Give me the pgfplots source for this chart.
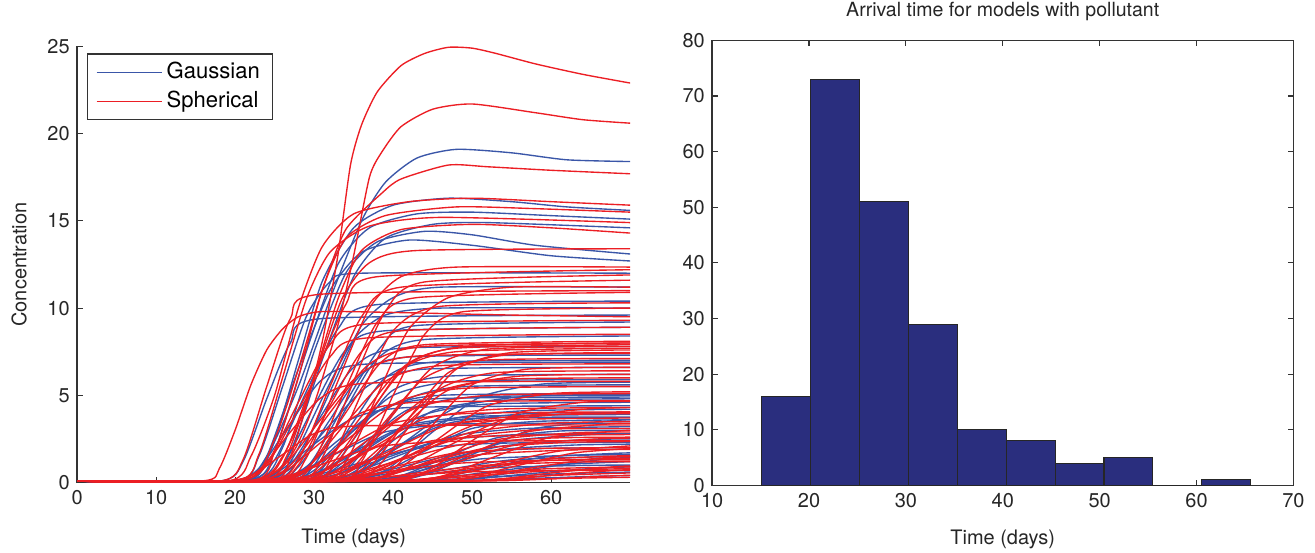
\documentclass[border=0pt]{standalone}
\usepackage{pgfplots}
\pgfplotsset{compat=1.18}
\usepackage{fontspec}
\setmainfont{TeX Gyre Heros}
\definecolor{gblue}{RGB}{58,86,168}
\definecolor{sred}{RGB}{236,30,36}
\definecolor{navy}{RGB}{42,46,126}
\pgfplotsset{
  gau/.style={color=gblue, line width=0.65pt, smooth, tension=0.4},
  sph/.style={color=sred, line width=0.65pt, smooth, tension=0.4},
  matlab/.style={
    scale only axis,
    tick align=inside,
    major tick length=2.6pt,
    axis line style={black!80, line width=0.6pt},
    every tick/.style={black!80, line width=0.5pt},
    /pgf/number format/assume math mode=true,
    tick label style={font=\fontsize{9.5}{11}\selectfont, black!85},
    label style={font=\fontsize{9.5}{11}\selectfont, black!85},
    title style={font=\fontsize{9.3}{11}\selectfont, black!85},
  },
}
% one curve each, starting flat at zero
\newcommand{\Gc}[1]{\addplot[gau,forget plot] coordinates {(0,0.08)#1};}
\newcommand{\Sc}[1]{\addplot[sph,forget plot] coordinates {(0,0.08)#1};}
\begin{document}
\begin{tikzpicture}
\path[use as bounding box] (0,0) rectangle (626pt,263pt);

\begin{axis}[matlab,
  at={(36.7pt,33.3pt)}, anchor=south west,
  width=263.3pt, height=207.6pt,
  xmin=0, xmax=70, ymin=0, ymax=25,
  xtick={0,10,...,60}, ytick={0,5,...,25},
  axis x line*=bottom, axis y line*=left,
  x axis line style={-}, y axis line style={-},
  xlabel={Time (days)}, ylabel={Concentration},
  xlabel style={yshift=-4.8pt}, ylabel style={yshift=3pt},
  legend style={at={(rel axis cs:0.018,0.984)}, anchor=north west,
    draw=black!80, line width=0.6pt, font=\fontsize{10.5}{12}\selectfont,
    cells={anchor=west}, row sep=0.5pt, inner xsep=4pt, inner ysep=2pt},
  legend image code/.code={\draw[#1, line width=0.6pt] (0pt,0pt) -- (31pt,0pt);},
]
% Gaussian
\addplot[gau] coordinates {(0,0.08)(20,.08)(24,1.5)(28,5.5)(32,10.5)(36,15)(39,17.2)(43,18.6)(48,19.1)(55,18.9)(62,18.5)(70,18.4)};
\addlegendentry{Gaussian}
\Gc{(21,.08)(24.5,1.8)(28,7)(31,11.5)(35,14.6)(40,15.9)(47,16.3)(55,16.1)(62,15.8)(70,15.6)}
\Gc{(21.5,.08)(25,1.8)(29,7.5)(33,12.5)(37,14.6)(43,15.4)(50,15.5)(60,15.3)(70,15.1)}
\Gc{(23,.08)(27,1.8)(31,7)(35,11.8)(39,14)(45,14.8)(52,14.9)(70,14.6)}
\Gc{(22,.08)(26,2)(30,7.5)(34,12)(38,13.8)(44,14.4)(50,14.2)(58,13.6)(70,13.1)}
\Gc{(21,.08)(24,1.5)(28,6.5)(32,11)(36,13.2)(42,13.9)(50,13.6)(60,13.0)(70,12.7)}
\Gc{(20,.08)(23,1.5)(26,5.5)(29,9.5)(32,11.5)(36,12.0)(70,12.0)}
\Gc{(24,.08)(28,1.4)(32,5.2)(36,9)(40,10.6)(46,11.2)(70,11.2)}
\Gc{(23,.08)(27,1.2)(31,4.8)(35,8.2)(39,9.6)(46,10.0)(70,10.0)}
\Gc{(25,.08)(29.5,1.1)(34,4.6)(38.5,7.8)(43,9.0)(70,9.2)}
\Gc{(22,.08)(26,1)(30,4.4)(34,7.6)(39,8.7)(70,8.9)}
\Gc{(26,.08)(30,1)(34,4.2)(38,7.1)(44,8.2)(70,8.4)}
\Gc{(24,.08)(28,0.9)(32,3.6)(36,6.2)(42,7.2)(70,7.3)}
\Gc{(27,.08)(31,0.8)(35,3.5)(39,6)(45,6.9)(70,7.0)}
\Gc{(22,.08)(27,0.8)(32,3.3)(37,5.6)(44,6.5)(70,6.6)}
\Gc{(28,.08)(32,0.7)(36,3.1)(40,5.3)(47,6.1)(70,6.2)}
\Gc{(25,.08)(30,0.7)(35,3)(40,5)(48,5.8)(70,5.9)}
\Gc{(30,.08)(34,0.7)(38,2.8)(42,4.8)(49,5.5)(70,5.6)}
\Gc{(24,.08)(29,0.6)(34,2.6)(39,4.3)(46,5.0)(70,5.1)}
\Gc{(27,.08)(32,0.6)(37,2.5)(42,4.2)(50,4.9)(70,5.0)}
\Gc{(23,.08)(28,0.6)(33,2.4)(38,4.1)(45,4.8)(70,4.9)}
\Gc{(30,.08)(35,0.6)(40,2.4)(45,4.1)(53,4.7)(70,4.8)}
\Gc{(26,.08)(32,0.55)(38,2.3)(44,3.9)(52,4.5)(70,4.6)}
\Gc{(29,.08)(35,0.5)(41,2.1)(47,3.6)(56,4.1)(70,4.2)}
\Gc{(24,.08)(30,0.5)(36,2)(42,3.3)(51,3.8)(70,3.9)}
\Gc{(32,.08)(38,0.45)(44,1.8)(50,3.1)(58,3.5)(70,3.6)}
\Gc{(27,.08)(34,0.4)(41,1.6)(48,2.7)(57,3.1)(70,3.2)}
\Gc{(35,.08)(41,0.4)(47,1.5)(53,2.55)(61,2.95)(70,3.0)}
\Gc{(25,.08)(32,0.35)(39,1.4)(46,2.4)(56,2.75)(70,2.8)}
\Gc{(30,.08)(38,0.3)(46,1.25)(54,2.1)(64,2.45)(70,2.5)}
\Gc{(33,.08)(40,0.3)(47,1.1)(54,1.9)(63,2.15)(70,2.2)}
\Gc{(28,.08)(35,0.25)(42,1)(49,1.7)(59,1.95)(70,2.0)}
\Gc{(38,.08)(45,0.2)(52,0.85)(59,1.45)(68,1.67)(70,1.7)}
\Gc{(31,.08)(39,0.2)(47,0.75)(55,1.3)(66,1.47)(70,1.5)}
\Gc{(36,.08)(44,0.15)(52,0.6)(60,1.0)(70,1.2)}
\Gc{(40,.08)(48,0.12)(56,0.45)(64,0.77)(70,0.9)}
\Gc{(34,.08)(43,0.1)(52,0.3)(61,0.5)(70,0.6)}
\Gc{(45,.08)(55,0.2)(65,0.35)(70,0.4)}
\Gc{(21,.08)(25,1.3)(29,5.2)(33,8.8)(38,10.2)(70,10.4)}
\Gc{(23,.08)(27,1)(31,3.9)(35,6.6)(41,7.7)(70,7.8)}
\Gc{(21,.08)(27,0.4)(33,1.7)(39,2.9)(48,3.35)(70,3.4)}
\Gc{(29,.08)(37,0.12)(45,0.5)(53,0.85)(64,0.98)(70,1.0)}
\Gc{(19,.08)(23,0.8)(27,3.4)(31,5.9)(37,6.8)(70,6.9)}
\Gc{(20,.08)(25,0.5)(30,2.2)(35,3.7)(42,4.3)(70,4.4)}
\Gc{(22,.08)(29,0.3)(36,1.15)(43,1.95)(53,2.25)(70,2.3)}
\Gc{(18,.08)(21,1.2)(24,4.8)(27,8)(31,9.4)(70,9.6)}
\Gc{(34,.08)(41,0.35)(48,1.4)(55,2.4)(65,2.75)(70,2.8)}
\Gc{(26,.08)(33,0.5)(40,2.0)(47,3.4)(57,3.95)(70,4.0)}
\Gc{(37,.08)(44,0.45)(51,1.8)(58,3.1)(68,3.55)(70,3.6)}
\Gc{(30,.08)(36,0.6)(42,2.5)(48,4.3)(57,4.95)(70,5.05)}
\Gc{(42,.08)(50,0.2)(58,0.8)(66,1.3)(70,1.45)}
\Gc{(27,.08)(35,0.2)(43,0.8)(51,1.35)(62,1.55)(70,1.6)}
\Gc{(33,.08)(39,0.7)(45,2.9)(51,4.9)(59,5.65)(70,5.75)}
\Gc{(24,.08)(30,0.45)(36,1.9)(42,3.2)(51,3.7)(70,3.75)}
% Spherical
\addplot[sph] coordinates {(0,0.08)(22,.1)(26,1.5)(29,4.5)(31,8)(33,13)(34.6,18.2)(36,20.5)(38,22.4)(41,23.9)(44,24.6)(47,24.95)(50,24.9)(53,24.6)(58,24)(64,23.4)(70,22.9)};
\addlegendentry{Spherical}
\Sc{(22,.1)(27,1.5)(30,4.5)(33,9)(35,13)(37,17.5)(38.5,18.9)(41,20.4)(45,21.4)(50,21.7)(58,21.2)(64,20.8)(70,20.6)}
\Sc{(21,.1)(25,2.5)(28,6.5)(31,11)(34,14.5)(38.6,16.6)(41,17.4)(47,18.2)(52,18.1)(60,17.9)(70,17.7)}
\Sc{(16,.1)(18,0.8)(20,3)(22,5.6)(24,7.6)(26,8.8)(28,9.5)(31,9.8)(40,9.75)(55,9.6)(70,9.5)}
\Sc{(19,.08)(22,1.5)(25,5)(28,10)(31,13.5)(35,15.4)(42,16.1)(50,16.3)(60,16.1)(70,15.9)}
\Sc{(22,.08)(25,1.8)(28,6)(31,11)(34,14)(39,15.3)(48,15.8)(58,15.7)(70,15.5)}
\Sc{(20,.08)(23,1.6)(26,6)(29,10.5)(32,13.2)(37,14.7)(46,15.2)(70,14.9)}
\Sc{(24,.08)(27,1.5)(30,6)(33,10.5)(36,13.3)(41,14.5)(50,14.8)(60,14.6)(70,14.3)}
\Sc{(23,.08)(26.5,1.5)(30,6)(33.5,10.5)(37,12.6)(43,13.3)(70,13.4)}
\Sc{(25,.08)(29,1.4)(33,5.8)(37,10)(41,11.8)(48,12.35)(70,12.35)}
\Sc{(22,.08)(26,1.4)(30,6)(34,10.2)(38,11.8)(70,12.2)}
\Sc{(27,.08)(31,1.4)(35,5.8)(39,9.8)(44,11.5)(70,11.9)}
\Sc{(24,.08)(28,1.3)(32,5.5)(36,9.5)(41,11.2)(70,11.6)}
\Sc{(26,.08)(30,1.3)(34,5.4)(38,9.2)(43,10.6)(70,10.9)}
\Sc{(28,.08)(32,1.2)(36,5.1)(40,8.7)(46,10.1)(70,10.3)}
\Sc{(30,.08)(34,1.2)(38,5)(42,8.8)(47,10.6)(55,11.2)(70,11.2)}
\Sc{(24,.08)(28,1)(32,4.4)(36,7.5)(41,8.7)(70,8.9)}
\Sc{(25,.08)(29.5,1)(34,4)(38.5,6.9)(44,7.9)(70,8.1)}
\Sc{(22,.08)(27,1)(32,4)(37,6.8)(44,7.8)(70,8.0)}
\Sc{(28,.08)(32.5,0.9)(37,3.9)(41.5,6.7)(48,7.7)(70,7.9)}
\Sc{(30,.08)(35,0.9)(40,3.9)(45,6.6)(52,7.65)(70,7.8)}
\Sc{(26,.08)(31,0.9)(36,3.8)(41,6.5)(48,7.5)(70,7.7)}
\Sc{(33,.08)(38,0.9)(43,3.8)(48,6.5)(55,7.45)(70,7.6)}
\Sc{(21,.08)(26,0.9)(31,3.7)(36,6.3)(43,7.25)(70,7.4)}
\Sc{(29,.08)(34,0.85)(39,3.5)(44,6)(51,7)(70,7.1)}
\Sc{(24,.08)(29,0.8)(34,3.4)(39,5.8)(46,6.7)(70,6.8)}
\Sc{(31,.08)(36,0.75)(41,3.2)(46,5.4)(53,6.3)(70,6.4)}
\Sc{(27,.08)(33,0.7)(39,3)(45,5.1)(53,5.9)(70,6.0)}
\Sc{(23,.08)(29,0.65)(35,2.75)(41,4.7)(49,5.4)(70,5.5)}
\Sc{(34,.08)(40,0.6)(46,2.6)(52,4.4)(60,5.1)(70,5.2)}
\Sc{(26,.08)(32,0.5)(38,2.15)(44,3.65)(53,4.2)(70,4.3)}
\Sc{(30,.08)(37,0.5)(44,2)(51,3.4)(61,3.9)(70,4.0)}
\Sc{(23,.08)(30,0.45)(37,1.85)(44,3.15)(54,3.6)(70,3.7)}
\Sc{(36,.08)(43,0.4)(50,1.7)(57,2.9)(67,3.35)(70,3.4)}
\Sc{(28,.08)(35,0.37)(42,1.55)(49,2.6)(59,3.05)(70,3.1)}
\Sc{(32,.08)(39,0.35)(46,1.45)(53,2.45)(63,2.85)(70,2.9)}
\Sc{(25,.08)(33,0.3)(41,1.3)(49,2.2)(60,2.55)(70,2.6)}
\Sc{(37,.08)(45,0.25)(53,1.05)(61,1.8)(70,2.1)}
\Sc{(27,.08)(35,0.23)(43,0.95)(51,1.6)(62,1.86)(70,1.9)}
\Sc{(41,.08)(49,0.2)(57,0.8)(65,1.35)(70,1.5)}
\Sc{(30,.08)(39,0.17)(48,0.7)(57,1.2)(68,1.38)(70,1.4)}
\Sc{(44,.08)(52,0.13)(60,0.55)(68,0.9)(70,0.95)}
\Sc{(33,.08)(42,0.1)(51,0.4)(60,0.68)(70,0.8)}
\Sc{(48,.08)(57,0.15)(66,0.35)(70,0.42)}
\Sc{(38,.08)(50,0.12)(62,0.24)(70,0.3)}
\Sc{(20,.08)(24,1.1)(28,4.6)(32,7.9)(37,9.1)(70,9.3)}
\Sc{(32,.08)(36,1.2)(40,5)(44,8.5)(49,9.8)(70,10.0)}
\Sc{(19,.08)(23,0.7)(27,2.9)(31,4.9)(37,5.7)(70,5.8)}
\Sc{(18,.08)(22,0.4)(26,1.6)(30,2.8)(36,3.25)(70,3.3)}
\Sc{(20,.08)(26,0.3)(32,1.2)(38,2.05)(47,2.35)(70,2.4)}
\Sc{(21,.08)(26,0.55)(31,2.35)(36,4)(43,4.6)(70,4.7)}
\Sc{(35,.08)(40,0.8)(45,3.3)(50,5.6)(57,6.5)(70,6.6)}
\Sc{(20,.08)(24,1)(28,4.2)(32,7.2)(37,8.3)(70,8.5)}
\Sc{(24,.08)(32,0.15)(40,0.65)(48,1.1)(59,1.27)(70,1.3)}
\Sc{(22,.08)(31,0.1)(40,0.35)(49,0.6)(60,0.69)(70,0.7)}
\Sc{(18,.08)(21,1.3)(24,5.5)(27,9.4)(31,10.8)(70,11.0)}
\Sc{(27,.08)(34,0.25)(41,1.0)(48,1.7)(58,1.95)(70,2.0)}
\Sc{(31,.08)(38,0.3)(45,1.2)(52,2.0)(62,2.3)(70,2.35)}
\Sc{(24,.08)(31,0.35)(38,1.4)(45,2.4)(55,2.7)(70,2.75)}
\Sc{(35,.08)(42,0.3)(49,1.3)(56,2.2)(66,2.5)(70,2.55)}
\Sc{(29,.08)(36,0.4)(43,1.7)(50,2.9)(60,3.4)(70,3.5)}
\Sc{(39,.08)(46,0.35)(53,1.5)(60,2.6)(70,3.0)}
\Sc{(26,.08)(33,0.45)(40,1.9)(47,3.3)(57,3.85)(70,3.95)}
\Sc{(33,.08)(40,0.5)(47,2.1)(54,3.6)(64,4.2)(70,4.3)}
\Sc{(42,.08)(49,0.25)(56,1.0)(63,1.7)(70,1.95)}
\Sc{(36,.08)(44,0.2)(52,0.8)(60,1.35)(70,1.55)}
\Sc{(28,.08)(36,0.15)(44,0.6)(52,1.0)(63,1.17)(70,1.2)}
\Sc{(46,.08)(54,0.15)(62,0.5)(70,0.75)}
\Sc{(40,.08)(50,0.12)(60,0.4)(70,0.55)}
\Sc{(32,.08)(41,0.12)(50,0.45)(59,0.78)(70,0.9)}
\Sc{(25,.08)(31,0.6)(37,2.5)(43,4.3)(52,5.0)(70,5.1)}
\Sc{(29,.08)(35,0.75)(41,3.1)(47,5.3)(56,6.1)(70,6.2)}
\Sc{(32,.08)(37,0.9)(42,3.7)(47,6.3)(54,7.3)(70,7.45)}
\Sc{(27,.08)(32,0.95)(37,4.0)(42,6.8)(49,7.8)(70,8.0)}
\Sc{(38,.08)(44,0.6)(50,2.4)(56,4.0)(64,4.6)(70,4.65)}
\Sc{(22,.08)(28,0.5)(34,2.0)(40,3.4)(49,3.95)(70,4.05)}
\end{axis}

\begin{axis}[matlab,
  at={(339pt,31.9pt)}, anchor=south west,
  width=276.7pt, height=211.9pt,
  xmin=10, xmax=70, ymin=0, ymax=80,
  xtick={10,20,...,70}, ytick={0,10,...,80},
  xlabel={Time (days)}, xlabel style={yshift=-4pt},
  title={Arrival time for models with pollutant},
]
\addplot[ybar interval, fill=navy, draw=black!85, line width=0.5pt] coordinates {
  (15.1,16)(20.15,73)(25.2,51)(30.25,29)(35.3,10)(40.35,8)(45.4,4)(50.45,5)(55.5,0)(60.55,1)(65.6,1)
};
\end{axis}
\end{tikzpicture}
\end{document}
